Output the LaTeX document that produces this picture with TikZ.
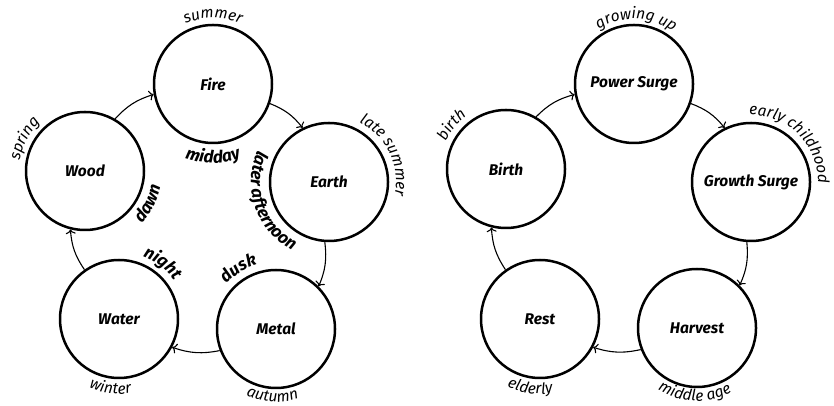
\documentclass[tikz,border=0pt]{standalone}
\usepackage{fontspec}
\setmainfont{Fira Sans}
\usetikzlibrary{arrows.meta,decorations.text}
\newcommand\labOut{\fontsize{15.5}{18}\selectfont\itshape}
\newcommand\labIn{\fontsize{17}{19}\selectfont\bfseries\itshape}
% clockwise label (letter tops point away from centre)
\newcommand\cwlab[4]{\path[decorate,decoration={text along path,text align=center,text={#4}}]
  ([shift={(#2+75:#3)}]#1.center) arc[start angle=#2+75,end angle=#2-75,radius=#3];}
% counter-clockwise label (letter tops point to centre)
\newcommand\ccwlab[4]{\path[decorate,decoration={text along path,text align=center,text={#4}}]
  ([shift={(#2-75:#3)}]#1.center) arc[start angle=#2-75,end angle=#2+75,radius=#3];}
\tikzset{
  phase/.style={circle,draw,line width=2.5pt,minimum size=118pt,inner sep=0pt,
    font=\fontsize{15.5}{18}\selectfont\bfseries\itshape},
  flow/.style={line width=1.1pt,-{To[length=4.5pt,width=10pt]},bend left=15},
}
\begin{document}
\begin{tikzpicture}[x=1pt,y=1pt]
\useasboundingbox (0,0) rectangle (834,406);
% ---------- left cycle ----------
\node[phase] (fire)  at (213,322) {Fire};
\node[phase] (wood)  at (85,235)  {Wood};
\node[phase] (earth) at (329,224) {Earth};
\node[phase] (water) at (119,87)  {Water};
\node[phase] (metal) at (276,77)  {Metal};
\draw[flow] (wood.60)   to (fire.190);
\draw[flow] (fire.-19)  to (earth.116);
\draw[flow] (earth.266) to (metal.45);
\draw[flow] (metal.201) to (water.-28);
\draw[flow] (water.125) to (wood.256);
\cwlab{fire}{90}{66}{|\labOut|summer}
\cwlab{wood}{152}{66}{|\labOut|spring}
\cwlab{earth}{26}{67}{|\labOut|late summer}
\ccwlab{water}{263}{75}{|\labOut|winter}
\ccwlab{metal}{267}{73}{|\labOut|autumn}
\ccwlab{fire}{270}{79}{|\labIn|midday}
\ccwlab{wood}{-27}{77}{|\labIn|dawn}
\ccwlab{earth}{199}{78}{|\labIn|later afternoon}
\cwlab{metal}{122}{67}{|\labIn|dusk}
\cwlab{water}{52}{67}{|\labIn|night}
% ---------- right cycle ----------
\node[phase] (power)   at (634,322) {Power Surge};
\node[phase] (birth)   at (506,237) {Birth};
\node[phase] (growth)  at (751,224) {Growth Surge};
\node[phase] (rest)    at (540,87)  {Rest};
\node[phase] (harvest) at (697,78)  {Harvest};
\draw[flow] (birth.60)    to (power.190);
\draw[flow] (power.-19)   to (growth.116);
\draw[flow] (growth.266)  to (harvest.45);
\draw[flow] (harvest.201) to (rest.-28);
\draw[flow] (rest.125)    to (birth.256);
\cwlab{power}{88}{65}{|\labOut|growing up}
\cwlab{birth}{141}{66}{|\labOut|birth}
\cwlab{growth}{45}{67}{|\labOut|early childhood}
\ccwlab{rest}{262}{75}{|\labOut|elderly}
\ccwlab{harvest}{268}{73}{|\labOut|middle age}
\end{tikzpicture}
\end{document}
